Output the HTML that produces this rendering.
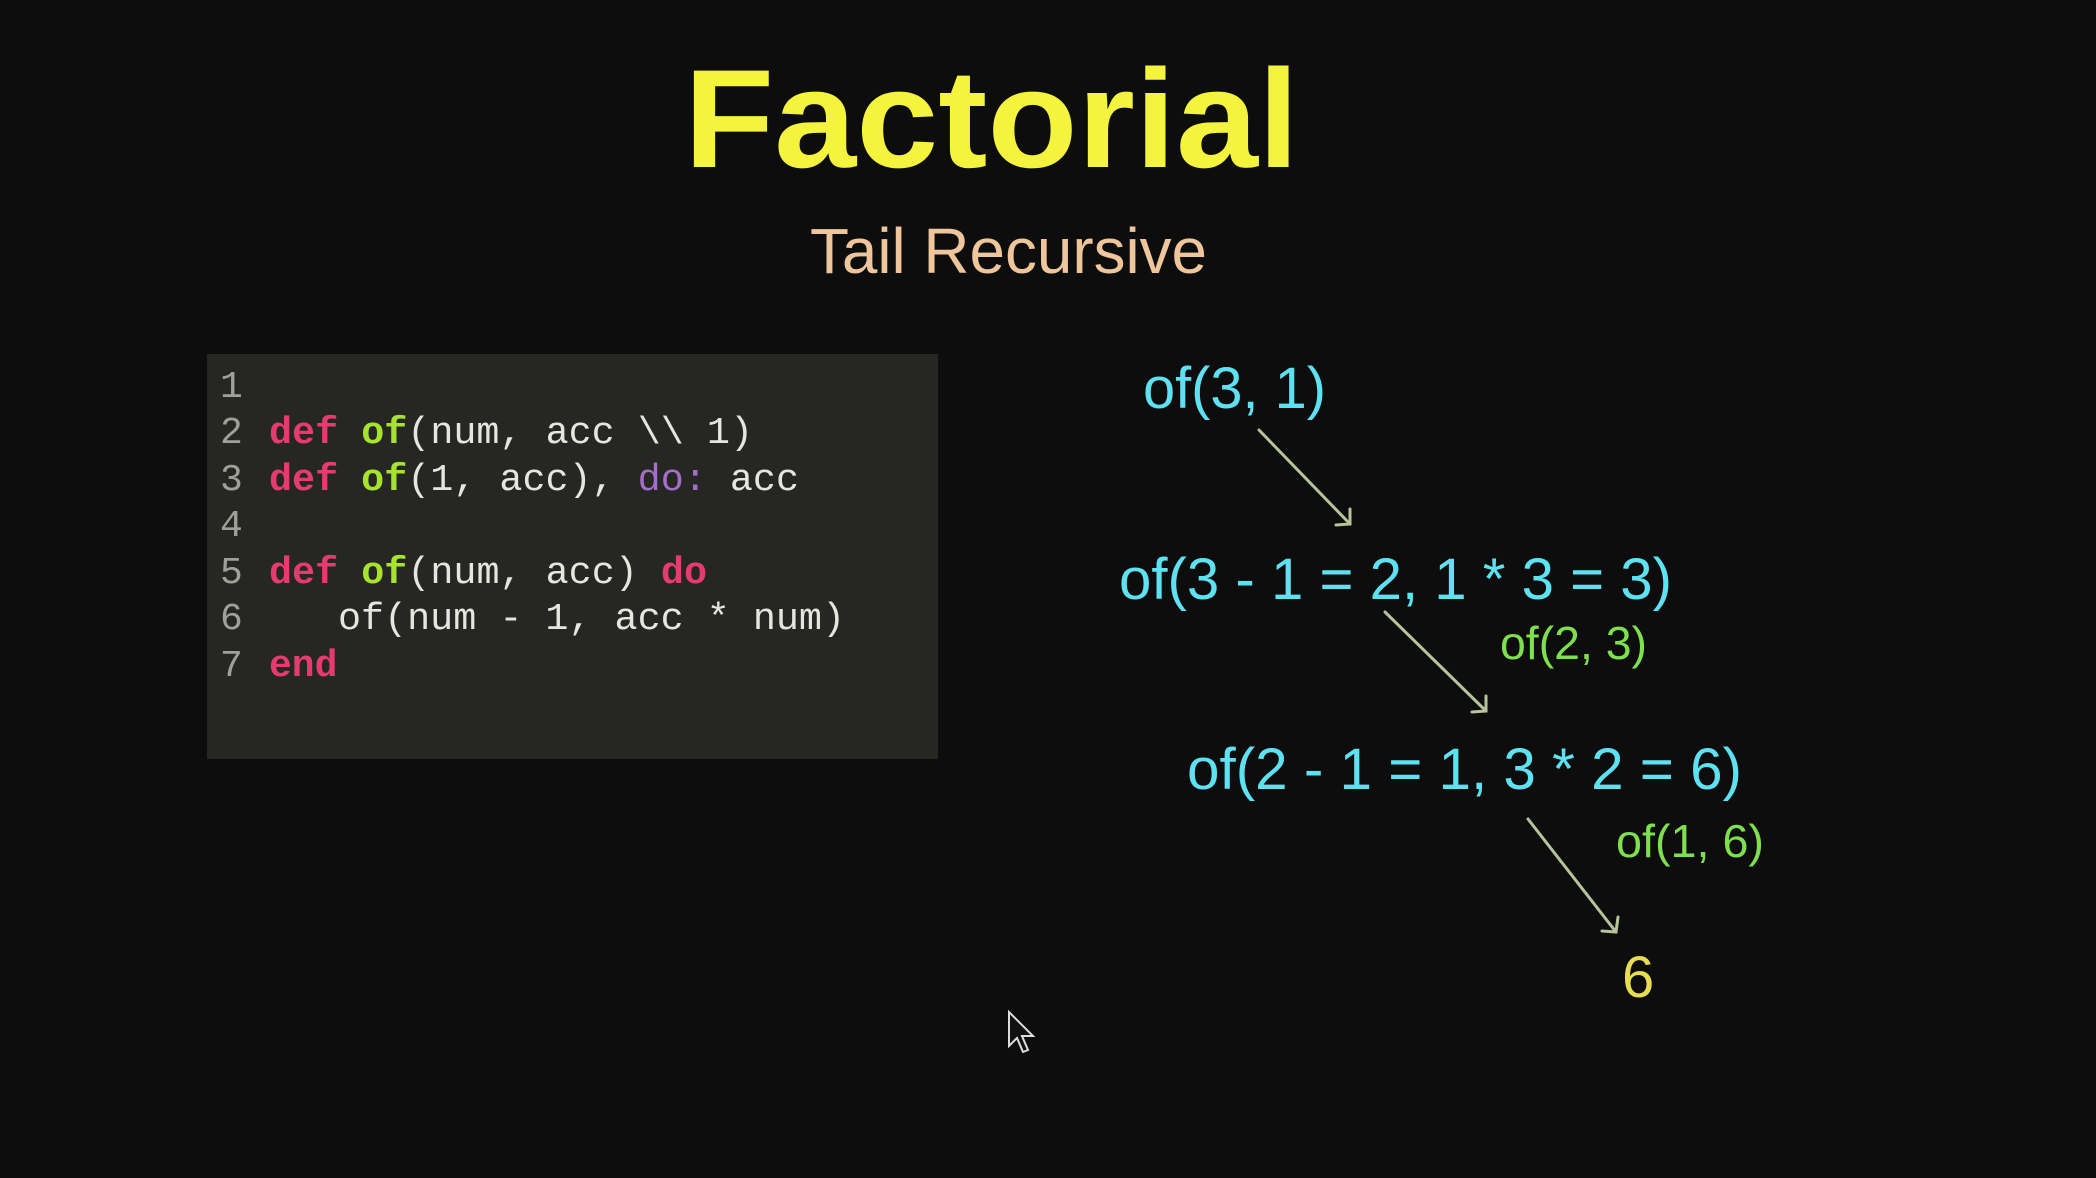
<!DOCTYPE html>
<html><head><meta charset="utf-8"><style>
html,body{margin:0;padding:0;background:#0d0d0d;width:2096px;height:1178px;overflow:hidden}
svg{display:block}
</style></head><body>
<svg width="2096" height="1178" viewBox="0 0 2096 1178" xmlns="http://www.w3.org/2000/svg">
<rect width="2096" height="1178" fill="#0d0d0d"/>
<text x="684" y="167" textLength="615" lengthAdjust="spacingAndGlyphs" font-family="Liberation Sans, sans-serif" font-weight="bold" font-size="140" fill="#f4f43e">Factorial</text>
<text x="810" y="273" textLength="397" lengthAdjust="spacingAndGlyphs" font-family="Liberation Sans, sans-serif" font-size="64" fill="#efc59c">Tail Recursive</text>

<rect x="207" y="354" width="731" height="405" fill="#262622"/>
<g font-family="Liberation Mono, monospace" font-size="38" fill="#e6e6e0">
<g fill="#a0a09a">
<text x="220" y="397">1</text><text x="220" y="443">2</text><text x="220" y="490">3</text><text x="220" y="536">4</text><text x="220" y="583">5</text><text x="220" y="629">6</text><text x="220" y="676">7</text>
</g>
<text x="269" y="443" textLength="484" lengthAdjust="spacingAndGlyphs"><tspan fill="#e63a72" font-weight="bold">def</tspan> <tspan fill="#a6e22e" font-weight="bold">of</tspan>(num, acc \\ 1)</text>
<text x="269" y="490" textLength="530" lengthAdjust="spacingAndGlyphs"><tspan fill="#e63a72" font-weight="bold">def</tspan> <tspan fill="#a6e22e" font-weight="bold">of</tspan>(1, acc), <tspan fill="#a66ecc">do:</tspan> acc</text>
<text x="269" y="583" textLength="438" lengthAdjust="spacingAndGlyphs"><tspan fill="#e63a72" font-weight="bold">def</tspan> <tspan fill="#a6e22e" font-weight="bold">of</tspan>(num, acc) <tspan fill="#e63a72" font-weight="bold">do</tspan></text>
<text x="338" y="629" textLength="507" lengthAdjust="spacingAndGlyphs">of(num - 1, acc * num)</text>
<text x="269" y="676" fill="#e63a72" font-weight="bold">end</text>
</g>

<g font-family="Liberation Sans, sans-serif">
<text x="1143" y="408" textLength="183" lengthAdjust="spacingAndGlyphs" font-size="58" fill="#5ee2f2">of(3, 1)</text>
<text x="1119" y="599" textLength="553" lengthAdjust="spacingAndGlyphs" font-size="58" fill="#5ee2f2">of(3 - 1 = 2, 1 * 3 = 3)</text>
<text x="1500" y="659" textLength="147" lengthAdjust="spacingAndGlyphs" font-size="46" fill="#7ee04e">of(2, 3)</text>
<text x="1187" y="789" textLength="555" lengthAdjust="spacingAndGlyphs" font-size="58" fill="#5ee2f2">of(2 - 1 = 1, 3 * 2 = 6)</text>
<text x="1616" y="857" textLength="148" lengthAdjust="spacingAndGlyphs" font-size="46" fill="#7ee04e">of(1, 6)</text>
<text x="1622" y="997" font-size="58" fill="#e8dc50">6</text>
</g>

<g stroke="#b6c49c" stroke-width="3" fill="none" stroke-linecap="round">
<line x1="1259" y1="430" x2="1350" y2="524"/>
<polyline points="1336,525 1350,524 1350,509"/>
<line x1="1385" y1="612" x2="1486" y2="711"/>
<polyline points="1472,712 1486,711 1486,696"/>
<line x1="1528" y1="819" x2="1616" y2="932"/>
<polyline points="1602,931 1616,932 1618,917"/>
</g>

<path d="M1009,1012 L1009,1046 L1017,1038 L1023,1052 L1028,1050 L1022,1036 L1033,1036 Z" fill="#111" stroke="#ddd" stroke-width="2"/>
</svg>
</body></html>
